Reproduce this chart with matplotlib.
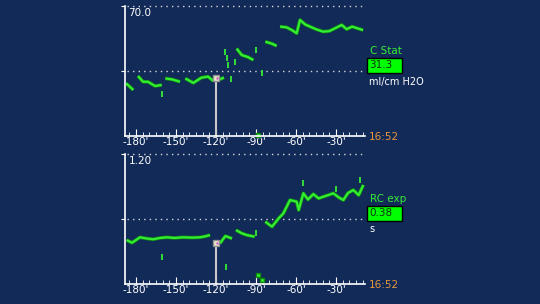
import numpy as np
from matplotlib import pyplot as plt
from matplotlib.patches import Rectangle

nan = np.nan

# minutes before now, C Stat trace (ml/cm H2O)
t_top = [-187.5, -182, nan, -178.5, -174.7, -171, -165.7, -160.7, nan, -158, -153, -147, nan,
         -143, -137, -131, -126, -122, nan, -117, -114, nan,
         -104.5, -100.7, -96, -92, nan, -83, -78, -74.5, nan,
         -72, -67, -63, -59.5, -57, -53, -49.5, -45, -39.7, -35, -30.7, -25.7, -22, -18, -14, -9.7]
v_top = [28.4, 24.8, nan, 32.3, 29.2, 29.2, 26.9, 27.5, nan, 31, 30.5, 29.2, nan,
         31, 28.6, 31.4, 32, 29.6, nan, 30.5, 31.5, nan,
         47.1, 43.6, 42.5, 40.9, nan, 50.8, 49.7, 48.5, nan,
         58.9, 58.5, 57, 55.3, 62.5, 60, 58.9, 57.5, 56.2, 56.5, 58, 59.8, 57.5, 58.9, 58, 57]
dots_top_t = [-160.5, -113, -112, -111, -109, -105.7, -90, -85.5]
dots_top_v = [22.4, 45, 42, 38, 30.5, 40, 46.3, 33.9]
block_top_t = [-88.5]
block_top_v = [0.8]

# RC exp trace (s)
t_bot = [-187, -183, -177, -172, -167, -162, -157, -151, -145, -138, -132, -128, -124.5, nan,
         -117, -113, -108, nan, -105, -101, -97, -91, nan,
         -83, -78, -73, -69.5, -64.5, -59.5, -58, -54.5, -51, -47, -43, -39.5, -36,
         -32, -28, -24.5, -21, -17, -13, -9.5]
v_bot = [0.406, 0.381, 0.431, 0.42, 0.413, 0.425, 0.431, 0.425, 0.431, 0.428, 0.431, 0.44, 0.452, nan,
         0.375, 0.443, 0.42, nan, 0.498, 0.47, 0.452, 0.437, nan,
         0.575, 0.529, 0.606, 0.652, 0.775, 0.76, 0.683, 0.837, 0.78, 0.83, 0.79, 0.806, 0.82,
         0.837, 0.8, 0.775, 0.84, 0.868, 0.82, 0.914]
dots_bot_t = [-160.5, -112.5, -90, -55, -30, -12]
dots_bot_v = [0.246, 0.154, 0.47, 0.93, 0.88, 0.96]
block_bot_t = [-88.5, -85.5]
block_bot_v = [0.083, 0.037]

x_ticks = [-180, -150, -120, -90, -60, -30]
x_labels = ["-180'", "-150'", "-120'", "-90'", "-60'", "-30'"]

panels = [
    dict(t=t_top, v=v_top, dt=dots_top_t, dv=dots_top_v, bt=block_top_t, bv=block_top_v,
         ymax=70.0, top_lbl='70.0', name='C Stat', val='31.3', unit='ml/cm H2O', cur=31.3, ypix=6),
    dict(t=t_bot, v=v_bot, dt=dots_bot_t, dv=dots_bot_v, bt=block_bot_t, bv=block_bot_v,
         ymax=1.20, top_lbl='1.20', name='RC exp', val='0.38', unit='s', cur=0.38, ypix=154),
]

bg = '#122a58'
green = '#35ec35'
dark = '#0c8a0c'
W, H = 540, 304

fig = plt.figure(figsize=(5.4, 3.04), dpi=100, facecolor=bg)

for p in panels:
    y0 = p['ypix']
    ax = fig.add_axes([125 / W, 1 - (y0 + 130) / H, 240 / W, 130 / H])
    ax.set_facecolor(bg)
    ax.set_xlim(-188.25, -8.25)
    ax.set_ylim(0, p['ymax'])
    for s in ['top', 'right']:
        ax.spines[s].set_visible(False)
    for s in ['left', 'bottom']:
        ax.spines[s].set_color('white')
        ax.spines[s].set_linewidth(1.2)

    ax.set_xticks(x_ticks)
    ax.set_xticklabels(x_labels)
    ax.set_xticks(np.arange(-185, -5, 5), minor=True)
    ax.tick_params(axis='x', which='major', direction='in', length=5, color='white',
                   labelcolor='white', labelsize=7.5, pad=1)
    ax.tick_params(axis='x', which='minor', direction='in', length=3, color='white')
    ax.set_yticks([p['ymax'] / 2, p['ymax']])
    ax.set_yticklabels([])
    ax.tick_params(axis='y', direction='out', length=3, color='white')

    for yy in [p['ymax'] / 2, p['ymax']]:
        ax.plot([-187, -9.5], [yy, yy], color='#d8d8d8', lw=1, ls=(0, (1, 3)), clip_on=False)

    ax.text(0.015, 0.985, p['top_lbl'], transform=ax.transAxes, color='white',
            fontsize=7.5, va='top', ha='left')

    # cursor
    ax.plot([-120, -120], [0, p['cur']], color='#c8c8c8', lw=1.5)

    ax.plot(p['t'], p['v'], color=dark, lw=2.6, solid_capstyle='butt')
    ax.plot(p['t'], p['v'], color=green, lw=1.6, solid_capstyle='butt')
    ax.plot(p['dt'], p['dv'], ls='none', marker='|', ms=5, mew=1.3, color=green)
    ax.plot(p['bt'], p['bv'], ls='none', marker='s', ms=3.5, color=green, mec=dark,
            clip_on=False)

    ax.plot([-120], [p['cur']], ls='none', marker='s', ms=4, color='#e8e8c8', mec='#909090')
    ax.plot([-119], [p['cur']], ls='none', marker='s', ms=2, color='#d040d0', mec='none')

    # right side readout
    fig.text(370 / W, 1 - (y0 + 45) / H, p['name'], color=green, fontsize=7.5,
             va='center', ha='left')
    fig.patches.append(Rectangle((367 / W, 1 - (y0 + 67) / H), 35 / W, 15 / H,
                                 transform=fig.transFigure, facecolor='#00ff00',
                                 edgecolor='black', lw=1))
    fig.text(369 / W, 1 - (y0 + 59.5) / H, p['val'], color='#103010', fontsize=7.5,
             va='center', ha='left')
    fig.text(369 / W, 1 - (y0 + 75.5) / H, p['unit'], color='white', fontsize=7,
             va='center', ha='left')
    fig.text(369 / W, 1 - (y0 + 131) / H, '16:52', color='#e8963c', fontsize=7.5,
             va='center', ha='left')

fig.savefig('out.png', dpi=100, facecolor=bg)
